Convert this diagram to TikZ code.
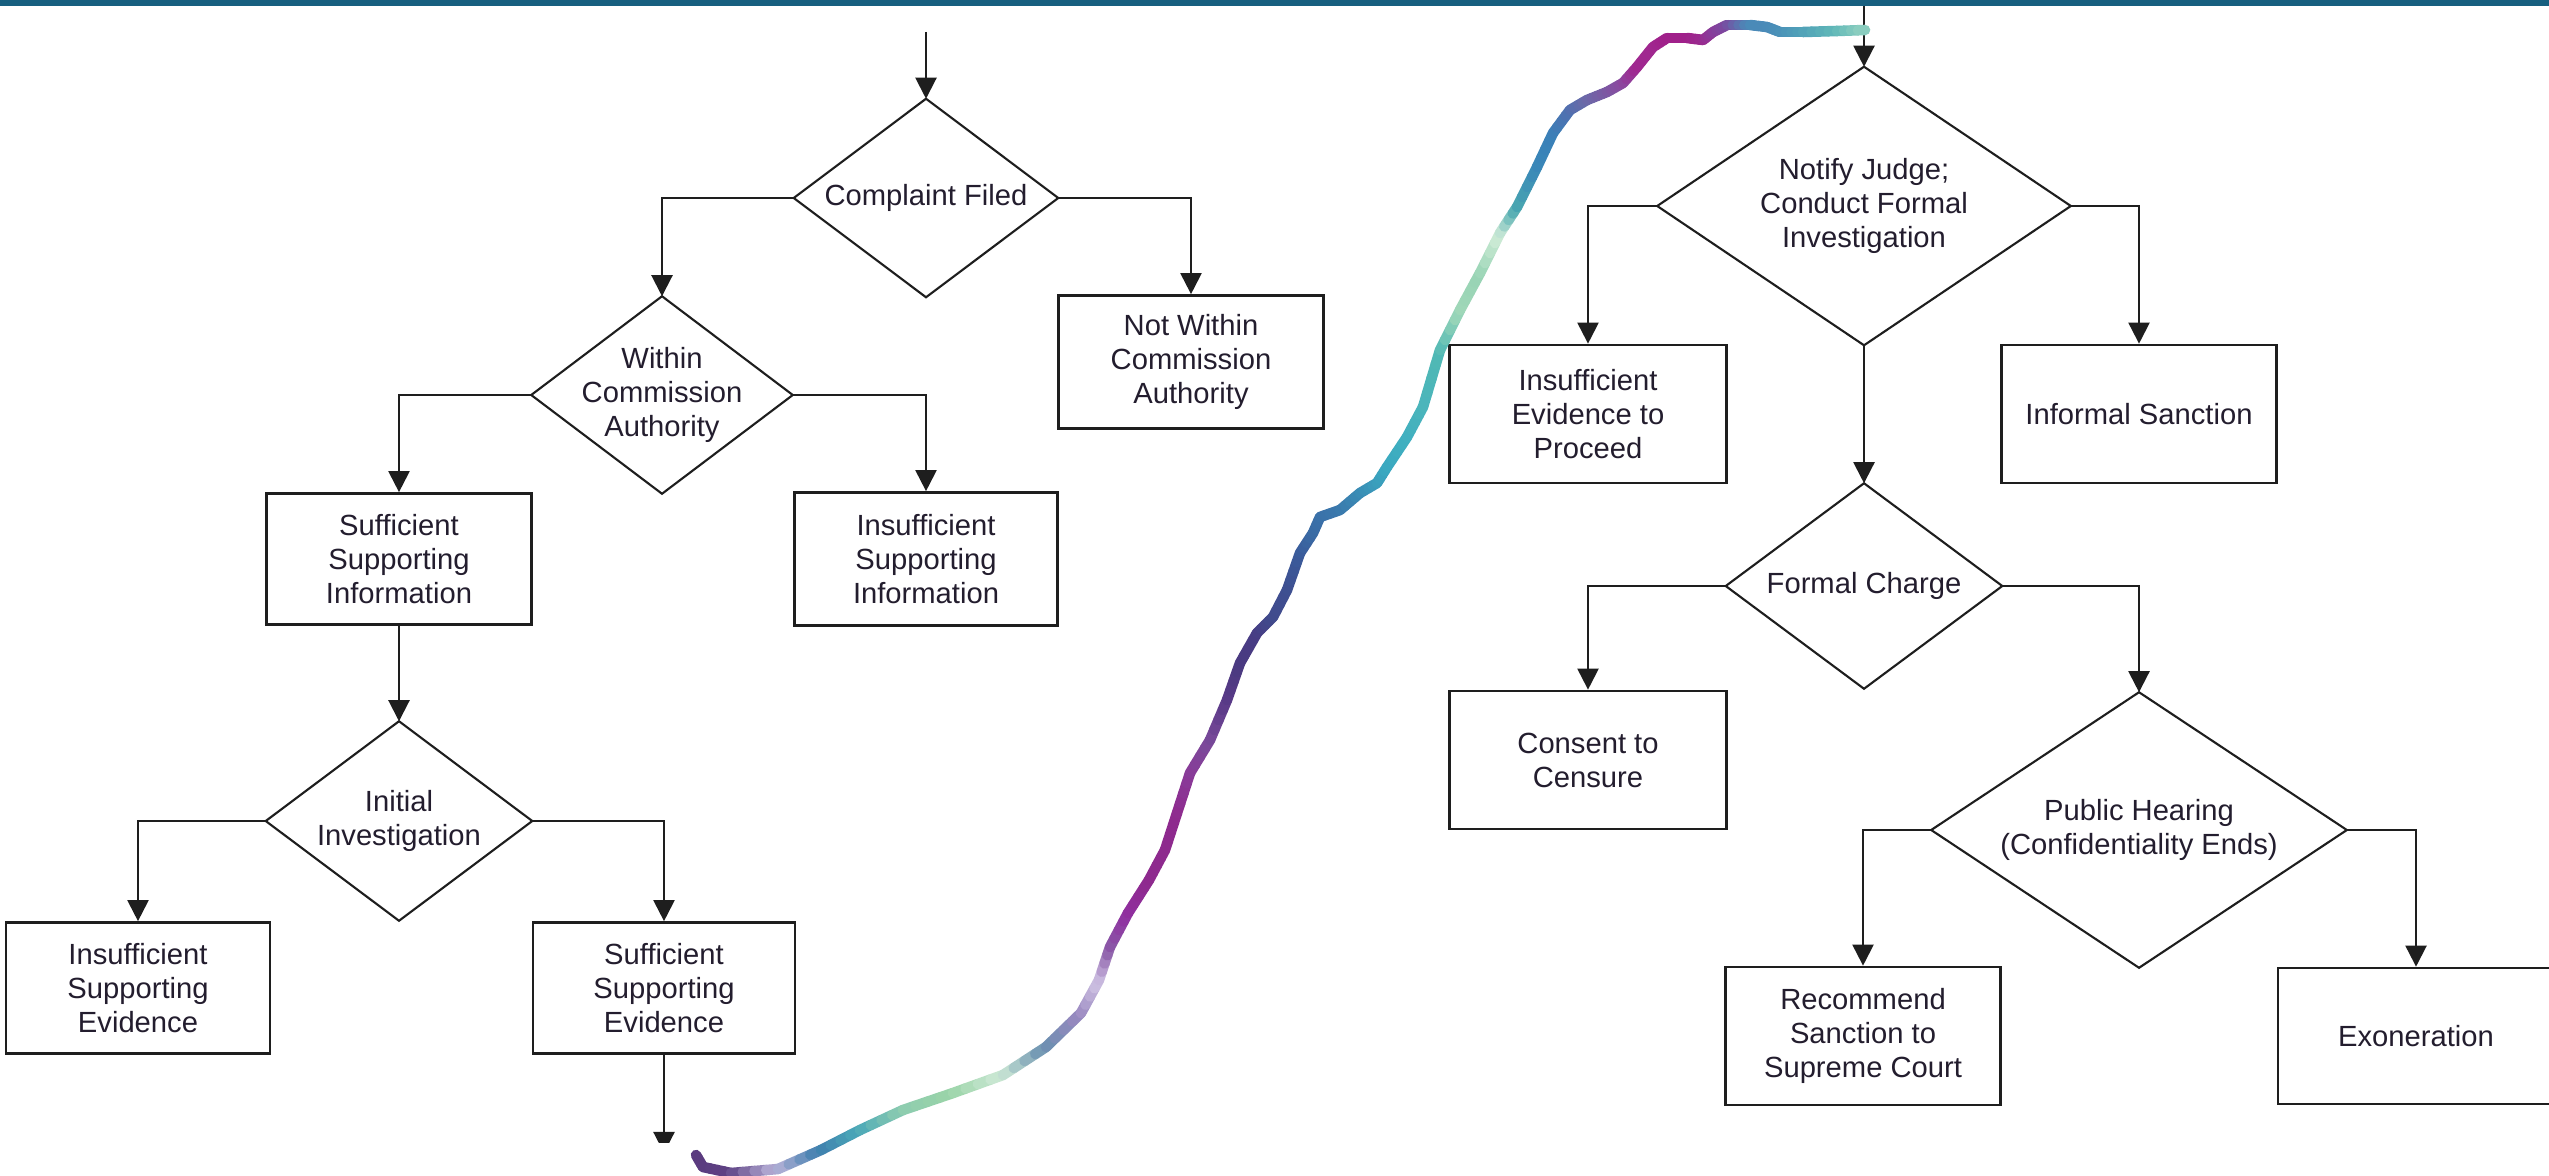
\documentclass[tikz,border=0pt]{standalone}
\usepackage{fontspec}
\setmainfont{Liberation Sans}
\usetikzlibrary{arrows.meta}

\definecolor{barblue}{HTML}{175F7F}
\definecolor{ink}{HTML}{231D2E}
\definecolor{edge}{HTML}{1E1E1E}

\tikzset{
  lbl/.style={font=\fontsize{8.3}{9.7}\selectfont, text=ink, align=center},
  % decision nodes: the text area; the rhombus is drawn through its four side anchors
  decision/.style={lbl, rectangle, inner sep=0pt},
  rhombus/.style={draw=edge, line width=0.6pt, line join=miter},
  stepbox/.style={lbl, rectangle, draw=edge, line width=0.75pt, inner sep=0pt},
  conn/.style={draw=edge, line width=0.6pt, -{Triangle[width=6pt,length=6pt]}},
  glitter/.style={line width=3pt, line cap=round, line join=round},
}

\begin{document}
\begin{tikzpicture}[x=0.01cm,y=-0.01cm]
\clip (0,0) rectangle (2549,1176);
\fill[white] (0,0) rectangle (2549,1176);
% header band
\fill[barblue] (0,0) rectangle (2549,6);

% ---------- left column ----------
\coordinate (startL) at (926,32);
\node[decision, minimum width=2.63cm, minimum height=1.97cm] (cf) at (926,198) {Complaint Filed};
\node[decision, minimum width=2.60cm, minimum height=1.96cm] (wca) at (662,395) {Within\\Commission\\Authority};
\node[stepbox, minimum width=2.65cm, minimum height=1.33cm] (nwca) at (1191,362) {Not Within\\Commission\\Authority};
\node[stepbox, minimum width=2.65cm, minimum height=1.31cm] (ssi) at (399,559) {Sufficient\\Supporting\\Information};
\node[stepbox, minimum width=2.63cm, minimum height=1.33cm] (isi) at (926,559) {Insufficient\\Supporting\\Information};
\node[decision, minimum width=2.65cm, minimum height=1.98cm] (ii) at (399,821) {Initial\\Investigation};
\node[stepbox, minimum width=2.64cm, minimum height=1.31cm] (ise) at (138,988) {Insufficient\\Supporting\\Evidence};
\node[stepbox, minimum width=2.62cm, minimum height=1.31cm] (sse) at (664,988) {Sufficient\\Supporting\\Evidence};
\coordinate (contL) at (664,1153);

% ---------- right column ----------
\coordinate (startR) at (1864,6);
\node[decision, minimum width=4.12cm, minimum height=2.77cm] (nj) at (1864,206) {Notify Judge;\\Conduct Formal\\Investigation};
\node[stepbox, minimum width=2.77cm, minimum height=1.38cm] (iep) at (1588,414) {Insufficient\\Evidence to\\Proceed};
\node[stepbox, minimum width=2.75cm, minimum height=1.38cm] (is) at (2139,414) {Informal Sanction};
\node[decision, minimum width=2.75cm, minimum height=2.04cm] (fc) at (1864,586) {Formal Charge};
\node[stepbox, minimum width=2.77cm, minimum height=1.38cm] (cc) at (1588,760) {Consent to\\Censure};
\node[decision, minimum width=4.14cm, minimum height=2.74cm] (ph) at (2139,830) {Public Hearing\\(Confidentiality Ends)};
\node[stepbox, minimum width=2.75cm, minimum height=1.38cm] (rs) at (1863,1036) {Recommend\\Sanction to\\Supreme Court};
\node[stepbox, minimum width=2.76cm, minimum height=1.36cm] (ex) at (2416,1036) {Exoneration};

% rhombus outlines of the decision nodes
\foreach \n in {cf,wca,ii,nj,fc,ph}
  \draw[rhombus] (\n.north) -- (\n.east) -- (\n.south) -- (\n.west) -- cycle;

% ---------- connectors ----------
\draw[conn] (startL) -- (cf.north);
\draw[conn] (cf.west) -| (wca.north);
\draw[conn] (cf.east) -| (nwca.north);
\draw[conn] (wca.west) -| (ssi.north);
\draw[conn] (wca.east) -| (isi.north);
\draw[conn] (ssi.south) -- (ii.north);
\draw[conn] (ii.west) -| (ise.north);
\draw[conn] (ii.east) -| (sse.north);
\begin{scope}
  \clip (0,0) rectangle (2549,1142);
  \draw[conn] (sse.south) -- (contL);
\end{scope}

\draw[conn] (startR) -- (nj.north);
\draw[conn] (nj.west) -| (iep.north);
\draw[conn] (nj.east) -| (is.north);
\draw[conn] (nj.south) -- (fc.north);
\draw[conn] (fc.west) -| (cc.north);
\draw[conn] (fc.east) -| (ph.north);
\draw[conn] (ph.west) -| (rs.north);
\draw[conn] (ph.east) -| (ex.north);

% ---------- hand-drawn link from the left column to the right column ----------
% each leg is split in four pieces whose colour blends from one point's colour to the next
\foreach \x/\y/\c [remember=\x as \px (initially 696), remember=\y as \py (initially 1155),
                   remember=\c as \pc (initially 5B3B7F)] in {
  703/1167/5B3B7F, 731/1173/5E4284, 778/1169/B8B2D8, 821/1150/3F7FAE,
  860/1130/4AA8B8, 903/1110/8CCCB0, 953/1093/9BD4A8, 1003/1075/CDE9D6,
  1046/1047/6A90B0, 1081/1013/9A88C0, 1099/980/D0C4E4, 1110/947/8A5AA8,
  1128/913/9030A0, 1149/880/8E2A8E, 1165/850/8E2A8E, 1177/813/8E2A8E,
  1190/773/8A3A98, 1210/740/7A4A9A, 1227/700/5A3A88, 1240/663/4A3A80,
  1257/633/483C84, 1273/617/404A8C, 1287/590/3F4F90, 1300/553/3A5A9A,
  1313/533/3A6AA4, 1320/517/3A70A8, 1340/510/3A78AC, 1360/493/3A8AB4,
  1377/483/3A9CBC, 1387/467/3AA8C0, 1407/437/40B0C0, 1423/407/4AB4BC,
  1440/350/50B8B4, 1460/310/A0D8B8, 1480/273/98D4B4, 1500/233/D0ECD8,
  1517/207/4AA8B0, 1537/167/3A88B8, 1553/133/3A80B8, 1570/110/5070B0,
  1587/100/6A6AA8, 1607/92/7A5AA4, 1623/83/8A4AA0, 1637/67/A02890,
  1653/47/A02890, 1667/38/A0208A, 1687/38/A0208A, 1703/40/9A2A8E,
  1713/32/8A3A9A, 1727/25/7A4AA0, 1750/25/4A8AB8, 1767/27/4A8AB8,
  1780/32/4A90B8, 1803/32/50A0B8, 1837/31/60B8B8, 1865/30/90D0C0} {
  \definecolor{curc}{HTML}{\c}
  \definecolor{prevc}{HTML}{\pc}
  \foreach \k in {0,1,2,3} {
    \pgfmathsetmacro\ta{\k/4}
    \pgfmathsetmacro\tb{(\k+1)/4}
    \pgfmathsetmacro\mixp{(\k+0.5)*25}
    \draw[glitter, curc!\mixp!prevc]
      ({\px+(\x-\px)*\ta},{\py+(\y-\py)*\ta}) -- ({\px+(\x-\px)*\tb},{\py+(\y-\py)*\tb});
  }
}
\end{tikzpicture}
\end{document}
